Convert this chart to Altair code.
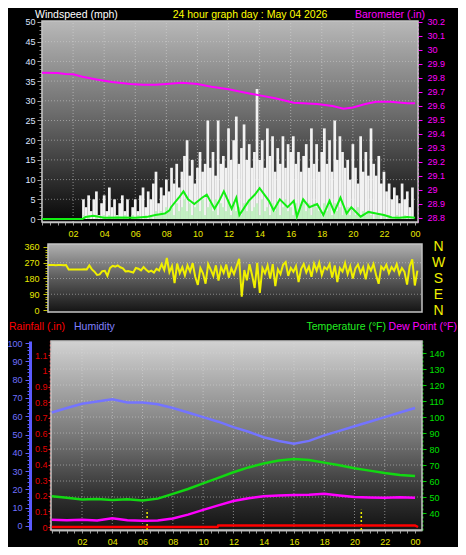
import altair as alt
import pandas as pd

FONT = "Liberation Sans"
W, H = 450, 539

# ---------------- data ----------------
# 10-minute samples through the day (hours)
t10 = [i / 6 for i in range(144)]

gust = [0] * 16 + [
    5, 3, 6, 2, 5, 7, 1, 4,
    6, 2, 8, 3, 5, 1, 4, 6,
    2, 5, 0, 3, 5, 2, 6, 8,
    3, 7, 5, 9, 12, 4, 8, 6,
    10, 7,
    13, 9, 14, 8, 12, 16, 20, 11, 15, 9,
    13, 17, 12, 14, 25, 13, 17, 11, 25, 14,
    16, 13, 23, 15, 20, 26, 14, 18, 24, 15,
    19, 13, 17, 33, 15, 20, 13, 23, 16, 21,
    12, 18, 14, 21, 13, 19, 17, 21,
    14, 17, 12, 16, 19, 13, 23, 14, 19, 12,
    17, 23, 14, 20, 12, 25, 15, 21, 17, 13,
    15, 10, 19, 13, 9, 21, 12, 17, 11, 23,
    14, 11, 16, 9, 12, 7, 9, 5, 8, 6,
    4, 9, 5, 7, 3, 8,
]

speed = [0] * 16 + [
    1, 0, 1, 0, 0, 1, 0, 0, 1, 0, 1, 0, 0, 1, 0, 0, 1, 0, 0, 1, 0, 1, 0, 0, 1, 0,
    1, 0, 2, 1, 2, 1, 3, 2,
    3, 1, 4, 2, 3, 5, 2, 4, 1, 3,
    4, 2, 5, 1, 3, 4, 2, 5, 1, 4,
    3, 2, 5, 1, 4, 2, 3, 1, 4, 2,
    5, 2, 3, 4, 1, 5, 2, 3, 1, 4,
    2, 4, 1, 3, 5, 2, 3, 1, 4, 2,
    3, 5, 2, 4, 1, 4, 3, 2, 1, 4,
    2, 5, 1, 4, 2, 3, 1, 2, 3, 1,
    2, 1, 3, 1, 2, 1, 2, 1, 0, 1,
    1, 0, 1, 0, 1, 0, 0, 1, 0, 0, 1, 0, 0, 0,
]

direction = [
    257, 257, 257, 256, 257, 257, 255, 257,
    232, 232, 232, 232, 232, 232, 233, 232,
    255, 232, 219, 200, 203, 222, 224, 195,
    240, 252, 248, 255, 244, 238, 220, 222,
    218, 214, 240, 236, 226, 245, 230, 218,
    225, 214, 235, 226, 262, 228, 297, 215,
    250, 154, 265, 210, 245, 198, 255, 220,
    268, 190, 143, 240, 210, 150, 262, 230,
    195, 255, 168, 245, 212, 260, 185, 238,
    205, 250, 293, 76, 228, 170, 262, 200,
    126, 270, 97, 240, 210, 255, 180, 262,
    137, 232, 205, 258, 274, 195, 240, 218,
    250, 160, 235, 262, 215, 248, 190, 265,
    225, 270, 200, 245, 232, 262, 185, 255,
    160, 240, 220, 268, 205, 250, 180, 238,
    260, 212, 245, 175, 255, 225, 262, 200,
    150, 248, 230, 258, 210, 245, 225, 262,
    205, 240, 218, 145, 250, 290, 140, 225,
]

avg_t = [0, 2.6, 2.8, 3.3, 4, 5, 6, 6.8, 7.3, 7.9, 8.2, 8.3, 8.8, 9.1, 9.4, 9.8,
         10.3, 10.6, 11.1, 11.4, 11.7, 12.2, 12.5, 12.7, 13.3, 13.7, 14.0, 14.6,
         14.9, 15.3, 15.8, 16.2, 16.4, 16.8, 17.2, 17.7, 18.1, 18.5, 18.8, 19.2,
         19.6, 19.9, 20.5, 21.0, 21.5, 22.0, 22.5, 23.0, 23.5, 24.0]
avg_v = [0, 0, 0.5, 0.8, 0.3, 0.4, 0.3, 0.6, 1.0, 1.4, 2.2, 3.0, 5.4, 7.0, 5.0, 3.8,
         5.4, 6.2, 2.6, 4.6, 7.0, 2.6, 5.4, 1.0, 4.6, 6.2, 7.8, 4.6,
         2.2, 5.0, 3.0, 4.6, 0.6, 5.0, 3.0, 3.8, 1.0, 4.6, 1.8, 5.4,
         1.4, 3.0, 0.6, 1.8, 1.4, 1.0, 0.4, 0.3, 0.5, 0.3]

baro_t = [0, 1, 1.5, 2.0, 2.6, 3.5, 4.5, 5.7, 6.5, 7.3, 8.0, 9.0, 10.0, 10.9, 12.0,
          13.1, 14.1, 15.0, 16.2, 17.7, 18.7, 19.4, 20.0, 20.8, 21.5, 22.4, 23.5, 24.0]
baro_v = [29.838, 29.835, 29.829, 29.826, 29.809, 29.79, 29.771, 29.757, 29.752,
          29.752, 29.757, 29.766, 29.757, 29.738, 29.719, 29.695, 29.674, 29.655,
          29.624, 29.614, 29.6, 29.581, 29.59, 29.614, 29.631, 29.631, 29.619, 29.619]

hours = list(range(25))
temperature = [50.5, 49.5, 48.5, 48.8, 48.2, 48.6, 47.8, 49, 52, 55, 58.5, 62, 65.5,
               68.5, 71, 72.8, 73.8, 73.2, 71.5, 69.8, 68, 66.5, 65, 63.8, 63.2]
dew_point = [35.8, 35.5, 35.8, 35.3, 36.8, 35.5, 35.2, 35.4, 36.6, 39, 42, 44.8, 47.5,
             49.3, 50.5, 51, 51.3, 51.5, 52, 51, 50, 49.7, 49.6, 49.8, 49.5]
humidity = [62, 64.5, 66.8, 68, 69.3, 67.5, 67.5, 66.5, 64.5, 62, 59.5, 57, 54, 51.5,
            48.5, 46.5, 45, 46.5, 49.5, 52, 54.5, 57, 59.5, 62, 64.5]

rain_t = [0, 10.95, 11.0, 24.0, 24.2]
rain_v = [0, 0, 0.01, 0.01, 0]

sun_events = [6.3, 20.45]

grid_hours = [2, 4, 6, 8, 10, 12, 14, 16, 18, 20, 22]
wind_grid = [5, 10, 15, 20, 25, 30, 35, 40, 45]
dir_grid = [90, 180, 270]
temp_grid = [50, 60, 70, 80, 90, 100, 110, 120, 130, 140]

wind_ticks = [0, 5, 10, 15, 20, 25, 30, 35, 40, 45, 50]
baro_ticks = [28.8, 28.9, 29.0, 29.1, 29.2, 29.3, 29.4, 29.5, 29.6, 29.7, 29.8, 29.9,
              30.0, 30.1, 30.2]
dir_ticks = [0, 90, 180, 270, 360]
hum_ticks = [0, 10, 20, 30, 40, 50, 60, 70, 80, 90, 100]
rain_ticks = [0, 0.1, 0.2, 0.3, 0.4, 0.5, 0.6, 0.7, 0.8, 0.9, 1.0, 1.1]
temp_ticks = [40, 50, 60, 70, 80, 90, 100, 110, 120, 130, 140]

# ---------------- panel geometry ----------------
X_TOP, XR_TOP = [0, 24.19], [34, 410]
Y_WIND, YR_TOP = [-0.76, 50.25], [214, 13]
Y_BARO = [28.7714, 30.2071]
X_MID, XR_MID = [0, 24.13], [40, 414]
Y_DIR, YR_MID = [-11.4, 377], [304, 236]
X_BOT, XR_BOT = [-0.05, 24.46], [43, 414]
Y_TEMP, YR_BOT = [29.4, 147.5], [522, 333]
Y_HUM = [-2.19, 101.1]
Y_RAIN = [-0.0192, 1.192]


def S(domain, rng):
    return alt.Scale(domain=domain, range=rng, nice=False, zero=False)


HOUR_LABEL = ("(datum.value % 2 == 0 && datum.value > 0) ? (datum.value == 24 ? '00' : "
              "(datum.value < 10 ? '0' + datum.value : '' + datum.value)) : ''")
half_hours = [i / 2 for i in range(49)]


def grad(stops):
    return alt.LinearGradient(
        gradient="linear", x1=0, x2=0, y1=0, y2=1,
        stops=[alt.GradientStop(offset=o, color=c) for o, c in stops])


def panel_bg(xd, xr, yd, yr, stops, yaxis=None, xaxis=None):
    df = pd.DataFrame({"x0": [xd[0]], "x1": [xd[1]], "y0": [yd[0]], "y1": [yd[1]]})
    return alt.Chart(df).mark_rect(fill=grad(stops), stroke="#c4c4c4", strokeWidth=1.5).encode(
        x=alt.X("x0:Q", scale=S(xd, xr), axis=xaxis, title=None),
        x2="x1",
        y=alt.Y("y0:Q", scale=S(yd, yr), axis=yaxis, title=None),
        y2="y1",
    )


def vgrid(xd, xr, yd, yr, yaxis=None):
    df = pd.DataFrame({"t": grid_hours, "a": yd[0], "b": yd[1]})
    return alt.Chart(df).mark_rule(color="#d8d8d8", strokeDash=[1, 2], opacity=0.55).encode(
        x=alt.X("t:Q", scale=S(xd, xr), axis=None),
        y=alt.Y("a:Q", scale=S(yd, yr), axis=yaxis, title=None),
        y2="b",
    )


def hgrid(vals, xd, xr, yd, yr, yaxis=None):
    df = pd.DataFrame({"v": vals, "a": xd[0], "b": xd[1]})
    return alt.Chart(df).mark_rule(color="#d8d8d8", strokeDash=[1, 2], opacity=0.5).encode(
        x=alt.X("a:Q", scale=S(xd, xr), axis=None),
        x2="b",
        y=alt.Y("v:Q", scale=S(yd, yr), axis=yaxis, title=None),
    )


def text(label, x, y, color, align="left", baseline="middle", size=10.5):
    return alt.Chart(pd.DataFrame({"s": [label]})).mark_text(
        x=x, y=y, align=align, baseline=baseline, color=color, fontSize=size, font=FONT
    ).encode(text="s:N")


# ---------------- axes ----------------
ax_top_x = alt.Axis(orient="bottom", offset=214 - H, values=half_hours, labelExpr=HOUR_LABEL,
                    tickSize=3, tickColor="#9a9a9a", labelColor="#e8e800", labelFontSize=9,
                    labelPadding=4, domainColor="#c8c8c8", domainWidth=1.5, labelOverlap=False,
                    labelFlush=False, grid=False, title=None)
ax_wind = alt.Axis(orient="left", offset=-34, values=wind_ticks, tickSize=5, labelPadding=2,
                   labelColor="#dde4ff", labelFontSize=9, tickColor="#a8a8a8",
                   domainColor="#dcdcdc", domainWidth=1.5, grid=False, title=None)
ax_wind_minor = alt.Axis(orient="left", offset=-34, values=list(range(51)), tickSize=3,
                         labels=False, domain=False, tickColor="#8a8a8a", grid=False, title=None)
ax_baro = alt.Axis(orient="right", offset=410 - W, values=baro_ticks, format=".1~f",
                   tickSize=4, labelPadding=5, labelColor="#ff00ff", labelFontSize=9,
                   tickColor="#ff00ff", domainColor="#ff00ff", domainDash=[2, 2],
                   grid=False, title=None)
ax_dir = alt.Axis(orient="left", offset=-40, values=dir_ticks, tickSize=5, labelPadding=4,
                  labelColor="#e8e800", labelFontSize=9, tickColor="#c8c800",
                  domainColor="#d0d0d0", domainWidth=1.5, grid=False, title=None)
ax_dir_minor = alt.Axis(orient="left", offset=-40, values=list(range(0, 361, 15)), tickSize=3,
                        labels=False, domain=False, tickColor="#b8b800", grid=False, title=None)
ax_compass = alt.Axis(orient="right", offset=414 - W, values=dir_ticks,
                      labelExpr="datum.value == 90 ? 'E' : datum.value == 180 ? 'S' : datum.value == 270 ? 'W' : 'N'",
                      ticks=False, domain=False, labelPadding=16, labelAlign="center",
                      labelFontSize=14, labelColor="#f0f000", grid=False, title=None)
ax_bot_x = alt.Axis(orient="bottom", offset=522 - H, values=half_hours, labelExpr=HOUR_LABEL,
                    tickSize=3, tickColor="#9a9a9a", labelColor="#e8e800", labelFontSize=9,
                    labelPadding=4, domainColor="#b0b0b0", domainWidth=2, labelOverlap=False,
                    labelFlush=False, grid=False, title=None)
ax_hum = alt.Axis(orient="left", offset=-22, values=hum_ticks, tickSize=5, labelPadding=3,
                  labelColor="#7070ff", labelFontSize=9, tickColor="#6060ff",
                  domainColor="#5a5aff", domainWidth=3, grid=False, title=None)
ax_hum_minor = alt.Axis(orient="left", offset=-22, values=list(range(0, 101, 2)), tickSize=3,
                        labels=False, domain=False, tickColor="#5a5aff", grid=False, title=None)
ax_rain = alt.Axis(orient="left", offset=-42, values=rain_ticks, format=".1~f", tickSize=2,
                   labelPadding=1, labelColor="#e00000", labelFontSize=9, tickColor="#ff2020",
                   domainColor="#ff3030", domainDash=[2, 2], domainWidth=1.5, grid=False,
                   title=None)
ax_temp = alt.Axis(orient="right", offset=414 - W, values=temp_ticks, tickSize=4,
                   labelPadding=3, labelColor="#00e000", labelFontSize=9, tickColor="#00d000",
                   domainColor="#00c000", domainDash=[2, 2], domainWidth=2, grid=False,
                   title=None)

# ---------------- top panel: wind + barometer ----------------
wind_df = pd.DataFrame({"t": t10, "gust": gust, "speed": speed, "base": 0})
top_bg = panel_bg(X_TOP, XR_TOP, Y_WIND, YR_TOP,
                  [(0, "#b8b8b8"), (0.45, "#6e6e6e"), (0.75, "#363636"), (1, "#070707")],
                  yaxis=ax_wind, xaxis=ax_top_x)
top_vgrid = vgrid(X_TOP, XR_TOP, Y_WIND, YR_TOP)
top_hgrid = hgrid(wind_grid, X_TOP, XR_TOP, Y_WIND, YR_TOP, yaxis=ax_wind_minor)
gust_bars = alt.Chart(wind_df).mark_rule(color="#f2f2f2", strokeWidth=2.7).encode(
    x=alt.X("t:Q", scale=S(X_TOP, XR_TOP), axis=None),
    y=alt.Y("gust:Q", scale=S(Y_WIND, YR_TOP), axis=None),
    y2="base",
)
speed_bars = alt.Chart(wind_df).mark_rule(color="#bdf0bd", strokeWidth=2.7, opacity=0.9).encode(
    x=alt.X("t:Q", scale=S(X_TOP, XR_TOP), axis=None),
    y=alt.Y("speed:Q", scale=S(Y_WIND, YR_TOP), axis=None),
    y2="base",
)
avg_line = alt.Chart(pd.DataFrame({"t": avg_t, "v": avg_v})).mark_line(
    color="#12ee12", strokeWidth=2).encode(
    x=alt.X("t:Q", scale=S(X_TOP, XR_TOP), axis=None),
    y=alt.Y("v:Q", scale=S(Y_WIND, YR_TOP), axis=None),
)
baro_line = alt.Chart(pd.DataFrame({"t": baro_t, "v": baro_v})).mark_line(
    color="#ff00ff", strokeWidth=2).encode(
    x=alt.X("t:Q", scale=S(X_TOP, XR_TOP), axis=None),
    y=alt.Y("v:Q", scale=S(Y_BARO, YR_TOP), axis=ax_baro),
)

# ---------------- middle panel: wind direction ----------------
mid_bg = panel_bg(X_MID, XR_MID, Y_DIR, YR_MID,
                  [(0, "#b0b0b0"), (0.5, "#5c5c5c"), (1, "#141414")], yaxis=ax_dir)
mid_hgrid = hgrid(dir_grid, X_MID, XR_MID, Y_DIR, YR_MID, yaxis=ax_compass)
dir_line = alt.Chart(pd.DataFrame({"t": t10, "d": direction})).mark_line(
    color="#f0f000", strokeWidth=2).encode(
    x=alt.X("t:Q", scale=S(X_MID, XR_MID), axis=None),
    y=alt.Y("d:Q", scale=S(Y_DIR, YR_MID), axis=ax_dir_minor),
)

# ---------------- bottom panel: temp / dew / humidity / rain ----------------
bot_bg = panel_bg(X_BOT, XR_BOT, Y_HUM, YR_BOT,
                  [(0, "#d2d2d2"), (0.5, "#787878"), (0.8, "#343434"), (1, "#131313")],
                  yaxis=ax_hum, xaxis=ax_bot_x)
bot_vgrid = vgrid(X_BOT, XR_BOT, Y_HUM, YR_BOT, yaxis=ax_hum_minor)
bot_hgrid = hgrid(temp_grid, X_BOT, XR_BOT, Y_TEMP, YR_BOT, yaxis=ax_temp)
sun_rules = alt.Chart(pd.DataFrame({"t": sun_events, "a": 29.4, "b": 42.0})).mark_rule(
    color="#f0f000", strokeDash=[2, 2], strokeWidth=1.5).encode(
    x=alt.X("t:Q", scale=S(X_BOT, XR_BOT), axis=None),
    y=alt.Y("a:Q", scale=S(Y_TEMP, YR_BOT), axis=None),
    y2="b",
)
series_df = pd.DataFrame({"t": hours, "temp": temperature, "dew": dew_point, "hum": humidity})
hum_line = alt.Chart(series_df).mark_line(color="#7474ff", strokeWidth=2.5).encode(
    x=alt.X("t:Q", scale=S(X_BOT, XR_BOT), axis=None),
    y=alt.Y("hum:Q", scale=S(Y_HUM, YR_BOT), axis=None),
)
temp_line = alt.Chart(series_df).mark_line(color="#12d812", strokeWidth=2.5).encode(
    x=alt.X("t:Q", scale=S(X_BOT, XR_BOT), axis=None),
    y=alt.Y("temp:Q", scale=S(Y_TEMP, YR_BOT), axis=None),
)
dew_line = alt.Chart(series_df).mark_line(color="#ff00ff", strokeWidth=2.5).encode(
    x=alt.X("t:Q", scale=S(X_BOT, XR_BOT), axis=None),
    y=alt.Y("dew:Q", scale=S(Y_TEMP, YR_BOT), axis=None),
)
rain_line = alt.Chart(pd.DataFrame({"t": rain_t, "r": rain_v})).mark_line(
    color="#ff0000", strokeWidth=2.5).encode(
    x=alt.X("t:Q", scale=S(X_BOT, XR_BOT), axis=None),
    y=alt.Y("r:Q", scale=S(Y_RAIN, YR_BOT), axis=ax_rain),
)

# ---------------- titles ----------------
titles = [
    text("Windspeed (mph)", 27, 7, "#ffffff"),
    text("24 hour graph day : May 04 2026", 242, 7, "#ffff00", align="center"),
    text("Barometer (.in)", 417, 7, "#ff00ff", align="right"),
    text("Rainfall (.in)", 1, 319, "#ff0000"),
    text("Humidity", 66, 319, "#8080ff"),
    text("Temperature (°F)", 378, 319, "#22ee22", align="right"),
    text("Dew Point (°F)", 449, 319, "#ff00ff", align="right"),
]

chart = alt.layer(
    top_bg, top_vgrid, top_hgrid, gust_bars, speed_bars, avg_line, baro_line,
    mid_bg, mid_hgrid, dir_line,
    bot_bg, bot_vgrid, bot_hgrid, sun_rules, hum_line, temp_line, dew_line, rain_line,
    *titles,
).resolve_scale(x="independent", y="independent").properties(
    width=W, height=H, padding=0, autosize=alt.AutoSizeParams(type="none"),
    background="black",
).configure_view(stroke=None).configure_axis(labelFont=FONT)

chart.save("out.html", embed_options={"renderer": "svg", "actions": False})
